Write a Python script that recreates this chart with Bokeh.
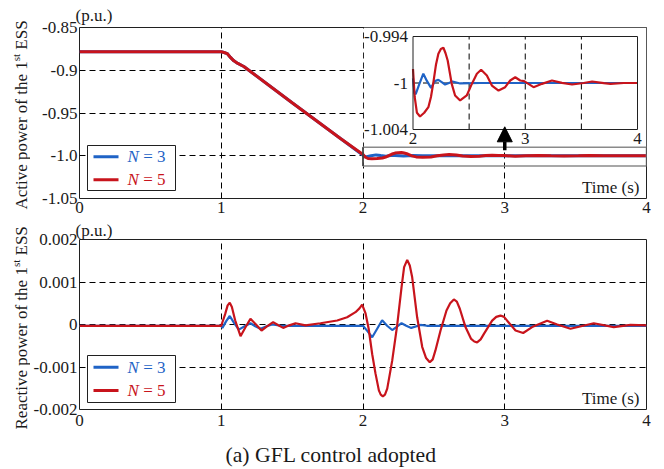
import math
from bokeh.plotting import figure
from bokeh.layouts import column, row
from bokeh.models import (Range1d, FixedTicker, Label, BoxAnnotation, Arrow, NormalHead, Title)
from bokeh.embed import file_html
from bokeh.resources import INLINE
from bokeh.core.properties import value

FONT = "'Liberation Serif', 'Times New Roman', serif"
BLUE = "#1F63C6"
RED = "#C8141C"
TXT = "#1a1a1a"

# ---------------- data ----------------
x_ticks = [0, 1, 2, 3, 4]
p_ticks = [-1.05, -1.0, -0.95, -0.9, -0.85]
p_tick_labels = ["-1.05", "-1.0", "-0.95", "-0.9", "-0.85"]
q_ticks = [-0.002, -0.001, 0.0, 0.001, 0.002]
q_tick_labels = ["-0.002", "-0.001", "0", "0.001", "0.002"]

# active power, common part before t = 2 s
t_ramp = [0.0, 1.0, 1.02, 1.042, 1.065, 1.089, 1.117, 1.159, 1.5, 1.841]
p_ramp = [-0.8784, -0.8784, -0.8792, -0.8805, -0.8850, -0.8890, -0.8920, -0.8956, -0.9380, -0.9798]

# active power after t = 2 s
t_p3 = [2.0, 2.012, 2.024, 2.057, 2.092, 2.125, 2.161, 2.195, 2.226, 2.256, 2.286, 2.32,
        2.352, 2.42, 2.6, 3.0, 3.5, 4.0]
p3 = [-0.9995, -1.0011, -1.0012, -1.0001, -0.9990, -0.9998, -1.00052, -0.9998, -0.99966,
      -0.9999, -1.00016, -1.0000, -0.99984, -1.00005, -1.0, -1.0, -1.0, -1.0]

t_p5 = [2.0, 2.015, 2.035, 2.0625, 2.10, 2.137, 2.16, 2.182, 2.205, 2.226, 2.248, 2.271,
        2.29, 2.309, 2.328, 2.345, 2.375, 2.42, 2.479, 2.524, 2.569, 2.607, 2.658, 2.703,
        2.762, 2.821, 2.866, 2.911, 2.955, 2.99, 3.074, 3.149, 3.238, 3.327, 3.417, 3.52,
        3.596, 3.70, 3.76, 3.878, 4.0]
p5 = [-0.9985, -1.0015, -1.0032, -1.0036, -1.0032, -1.0026, -1.0015, -0.9999, -0.9980,
      -0.99686, -0.99635, -0.99621, -0.9968, -0.99758, -0.9989, -1.0001, -1.00134, -1.00188,
      -1.00134, -1.0001, -0.9990, -0.99858, -0.99919, -1.00027, -1.00081, -1.00045, -0.99973,
      -0.99938, -0.99973, -0.9998, -1.00045, -1.00009, -0.99973, -0.99998, -1.00016, -1.0,
      -0.99984, -1.00002, -1.0001, -1.0, -1.0]

# reactive power
t_q3 = [0.0, 1.0, 1.008, 1.035, 1.06, 1.09, 1.124, 1.165, 1.206, 1.24, 1.277, 1.32, 1.36,
        1.42, 2.0, 2.03, 2.065, 2.10, 2.135, 2.17, 2.206, 2.24, 2.272, 2.305, 2.34, 2.406,
        2.45, 4.0]
q3 = [-0.00003, -0.00003, -0.00008, 0.00008, 0.0002, 0.00004, -0.00012, -0.00004, 0.00003,
      -0.00004, -0.0001, -0.00004, 0.0, -0.00003, -0.00003, -0.00015, -0.0003, -0.0001,
      0.0001, -0.00003, -0.00013, -0.00005, 0.00003, -0.00003, -0.00008, -0.00001,
      -0.00003, -0.00003]

t_q5 = [0.0, 1.0, 1.028, 1.045, 1.06, 1.075, 1.098, 1.136, 1.17, 1.206, 1.245, 1.284, 1.325,
        1.366, 1.40, 1.437, 1.48, 1.524, 1.594, 1.70, 1.818, 1.888, 1.947, 1.975, 1.994,
        2.018, 2.04, 2.065, 2.088, 2.112, 2.125, 2.14, 2.155, 2.171, 2.206, 2.241, 2.272,
        2.29, 2.312, 2.33, 2.347, 2.382, 2.418, 2.445, 2.471, 2.492, 2.511, 2.547, 2.589,
        2.615, 2.641, 2.662, 2.683, 2.723, 2.763, 2.785, 2.805, 2.83, 2.853, 2.911, 2.94,
        2.97, 2.995, 3.017, 3.076, 3.13, 3.193, 3.299, 3.37, 3.464, 3.628, 3.769, 3.887, 4.0]
q5 = [-0.00003, -0.00003, 0.00025, 0.00045, 0.00051, 0.00041, 0.0001, -0.000275, -0.00007,
      0.000134, 0.0, -0.000141, -0.00004, 0.000055, -0.00001, -0.00008, -0.00002, 0.00003,
      -0.00002, 0.00003, 0.000094, 0.00017, 0.00029, 0.00038, 0.00047, 0.00026, -0.0001,
      -0.0007, -0.00115, -0.00155, -0.00165, -0.00169, -0.00165, -0.00151, -0.00085,
      -0.00002, 0.00088, 0.00135, 0.00152, 0.00139, 0.00111, 0.00017, -0.00053, -0.00079,
      -0.00089, -0.00082, -0.00061, -0.00014, 0.00033, 0.0005, 0.00059, 0.00054, 0.00037,
      -0.00006, -0.00034, -0.0004, -0.00042, -0.00035, -0.00022, 0.00009, 0.00018, 0.00021,
      0.00018, 0.00009, -0.00014, -0.0002, -0.00006, 0.00009, 0.0, -0.0001, 0.00003,
      -0.00006, -0.00001, -0.00002]

# inset of the upper panel
inset_x_range = (2, 4)
inset_y_range = (-1.005, -0.995)
inset_x_ticks = [2, 3, 4]
inset_x_labels = ["2", "3", "4"]
inset_y_ticks = [-0.995, -1.0, -1.005]
inset_y_labels = ["-0.994", "-1", "-1.004"]
inset_grid_x = [2.5, 3.0, 3.5]
inset_grid_y = [-1.0]
zoom_box_y = (-1.012, -0.99)

# ---------------- layout helpers (page pixel -> data) ----------------
FL, FRt = 79, 646
LABW = 30


def dx(px):
    return 4.0 * (px - FL) / (FRt - FL)


def dy1(py):
    return -0.85 - (py - 25) * 0.2 / 171.0


def dy2(py):
    return 0.002 - (py - 239) * 0.004 / 170.0


def style(p, grid_y):
    p.outline_line_color = "#202020"
    p.outline_line_width = 1
    p.background_fill_color = "white"
    p.border_fill_color = "white"
    p.axis.axis_line_color = None
    p.axis.major_tick_line_color = None
    p.axis.minor_tick_line_color = None
    p.axis.major_tick_out = 0
    p.axis.major_tick_in = 0
    p.axis.minor_tick_out = 0
    p.axis.minor_tick_in = 0
    p.axis.major_label_text_font = FONT
    p.axis.major_label_text_font_size = "17px"
    p.axis.major_label_text_color = TXT
    p.xaxis.ticker = FixedTicker(ticks=x_ticks)
    p.xaxis.major_label_standoff = 3
    p.yaxis.major_label_standoff = 2
    p.xgrid.ticker = FixedTicker(ticks=x_ticks[1:-1])
    p.ygrid.ticker = FixedTicker(ticks=grid_y)
    p.grid.grid_line_color = "black"
    p.grid.grid_line_dash = "6 4"
    p.grid.grid_line_width = 1


def lab(p, x, y, text, size="17px", color=TXT, style_="normal", align="left",
        baseline="middle", angle=0.0):
    p.add_layout(Label(x=x, y=y, text=text, text_font=FONT, text_font_size=size,
                       text_color=color, text_font_style=style_, text_align=align,
                       text_baseline=baseline, angle=angle))


def legend(p, conv, top, bottom, y_blue, y_red):
    p.add_layout(BoxAnnotation(left=dx(87), right=dx(175), top=conv(top), bottom=conv(bottom),
                               fill_color="white", fill_alpha=1.0, line_color="#202020",
                               line_width=1, line_alpha=1.0))
    for yy, col, n in ((y_blue, BLUE, "3"), (y_red, RED, "5")):
        p.add_layout(Arrow(x_start=dx(93), x_end=dx(118), y_start=conv(yy), y_end=conv(yy),
                           end=None, line_color=col, line_width=3))
        lab(p, dx(127), conv(yy), "N", color=col, style_="italic")
        lab(p, dx(142.7), conv(yy), "= " + n, color=col)


def pu_title(p, standoff, valign):
    p.add_layout(Title(text="(p.u.)", align="left", offset=-4, standoff=standoff,
                       vertical_align=valign, text_font=FONT, text_font_size="17px",
                       text_font_style="normal", text_color=TXT), "above")


# ---------------- upper panel ----------------
p1 = figure(frame_width=567, frame_height=171, x_range=Range1d(0, 4),
            y_range=Range1d(-1.05, -0.85), output_backend="svg", toolbar_location=None,
            min_border_left=FL - LABW, min_border_right=10, min_border_top=25,
            min_border_bottom=23)
style(p1, p_ticks[1:-1])
p1.yaxis.ticker = FixedTicker(ticks=p_ticks)
p1.yaxis.major_label_overrides = dict(zip(p_ticks, p_tick_labels))
pu_title(p1, 6, "bottom")

# white area behind the inset
p1.quad(left=[2.006], right=[4], top=[-0.85], bottom=[zoom_box_y[1]],
        fill_color="white", line_color=None)

p1.line(t_ramp + t_p3, p_ramp + p3, line_color=BLUE, line_width=3)
p1.line(t_ramp + t_p5, p_ramp + p5, line_color=RED, line_width=3)

# zoom box
p1.quad(left=[2], right=[4], top=[zoom_box_y[1]], bottom=[zoom_box_y[0]],
        fill_color=None, line_color="#8a8a8a", line_width=1.5)
p1.segment(x0=[2], x1=[2], y0=[zoom_box_y[0]], y1=[zoom_box_y[1]], line_color="#202020",
           line_width=1.2)

ins = p1.subplot(x_source=Range1d(*inset_x_range), y_source=Range1d(*inset_y_range),
                 x_target=Range1d(dx(412.5), dx(637)), y_target=Range1d(dy1(127), dy1(34)))
ins.quad(left=[inset_x_range[0]], right=[inset_x_range[1]], bottom=[inset_y_range[0]],
         top=[inset_y_range[1]], fill_color="white", line_color=None)
ins.segment(x0=inset_grid_x, x1=inset_grid_x, y0=[inset_y_range[0]] * len(inset_grid_x),
            y1=[inset_y_range[1]] * len(inset_grid_x), line_color="black", line_dash="6 4",
            line_width=1)
ins.segment(x0=[inset_x_range[0]] * len(inset_grid_y), x1=[inset_x_range[1]] * len(inset_grid_y),
            y0=inset_grid_y, y1=inset_grid_y, line_color="black", line_dash="6 4", line_width=1)
ins.line(t_p3, p3, line_color=BLUE, line_width=2.2)
ins.line(t_p5, p5, line_color=RED, line_width=2.2)
ins.quad(left=[inset_x_range[0]], right=[inset_x_range[1]], bottom=[inset_y_range[0]],
         top=[inset_y_range[1]], fill_color=None, line_color="#202020", line_width=1)
ins.text(x=inset_x_ticks, y=[inset_y_range[0]] * len(inset_x_ticks), text=inset_x_labels,
         y_offset=3, text_align="center", text_baseline="top", text_font=value(FONT),
         text_font_size="17px", text_color=TXT)
ins.text(x=[inset_x_range[0]] * len(inset_y_ticks), y=inset_y_ticks, text=inset_y_labels,
         x_offset=-5, text_align="right", text_baseline="middle", text_font=value(FONT),
         text_font_size="17px", text_color=TXT)

p1.add_layout(Arrow(x_start=3, x_end=3, y_start=dy1(147.7), y_end=dy1(124.3),
                    line_color="black", line_width=3.5,
                    end=NormalHead(size=15, fill_color="black", line_color="black")))

legend(p1, dy1, 143, 188, 154.3, 177.3)
lab(p1, dx(639), dy1(185), "Time (s)", align="right")

# ---------------- lower panel ----------------
p2 = figure(frame_width=567, frame_height=170, x_range=Range1d(0, 4),
            y_range=Range1d(-0.002, 0.002), output_backend="svg", toolbar_location=None,
            min_border_left=FL - LABW, min_border_right=10, min_border_top=18,
            min_border_bottom=60)
style(p2, q_ticks[1:-1])
p2.xaxis.major_label_standoff = 5
p2.yaxis.ticker = FixedTicker(ticks=q_ticks)
p2.yaxis.major_label_overrides = dict(zip(q_ticks, q_tick_labels))
pu_title(p2, -5, "top")

p2.line(t_q3, q3, line_color=BLUE, line_width=2.2)
p2.line(t_q5, q5, line_color=RED, line_width=2.2)

legend(p2, dy2, 355, 402, 366.7, 390)
lab(p2, dx(639), dy2(398), "Time (s)", align="right")
p2.add_layout(Title(text="(a) GFL control adopted", align="left", offset=146, standoff=24,
                    text_font=FONT, text_font_size="21.7px", text_font_style="normal",
                    text_color=TXT), "below")

# ---------------- vertical axis titles (own canvas, page pixels) ----------------
labfig = figure(width=LABW, height=469, x_range=Range1d(0, LABW), y_range=Range1d(469, 0),
                x_axis_type=None, y_axis_type=None, output_backend="svg",
                toolbar_location=None, min_border=0)
labfig.outline_line_color = None
labfig.grid.visible = False
labfig.border_fill_color = "white"
labfig.background_fill_color = "white"
lab(labfig, 20.5, 209, "Active power of the 1", angle=math.pi / 2)
lab(labfig, 15.5, 60.8, "st", size="11px", angle=math.pi / 2)
lab(labfig, 20.5, 49.2, "ESS", angle=math.pi / 2)
lab(labfig, 20.5, 429, "Reactive power of the 1", angle=math.pi / 2)
lab(labfig, 15.5, 266.6, "st", size="11px", angle=math.pi / 2)
lab(labfig, 20.5, 255, "ESS", angle=math.pi / 2)

layout = row(labfig, column(p1, p2))
open("out.html", "w").write(file_html(layout, INLINE))
